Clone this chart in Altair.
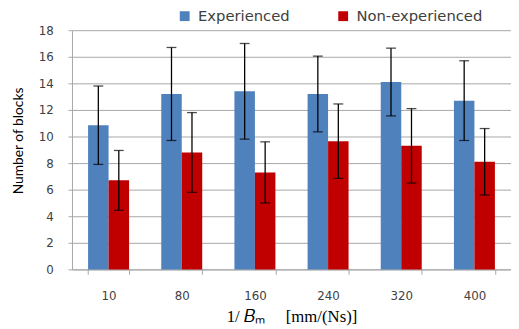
import altair as alt
import pandas as pd

categories = ["10", "80", "160", "240", "320", "400"]
series = ["Experienced", "Non-experienced"]
exp_mean = [10.85, 13.2, 13.4, 13.2, 14.1, 12.7]
exp_err = [2.95, 3.5, 3.6, 2.85, 2.55, 3.0]
non_mean = [6.7, 8.8, 7.3, 9.65, 9.3, 8.1]
non_err = [2.25, 3.0, 2.3, 2.8, 2.8, 2.5]
y_ticks = [0, 2, 4, 6, 8, 10, 12, 14, 16, 18]

rows = []
for i, c in enumerate(categories):
    rows.append(dict(cat=c, group=series[0], mean=exp_mean[i],
                     lo=exp_mean[i] - exp_err[i], hi=exp_mean[i] + exp_err[i]))
    rows.append(dict(cat=c, group=series[1], mean=non_mean[i],
                     lo=non_mean[i] - non_err[i], hi=non_mean[i] + non_err[i]))
df = pd.DataFrame(rows)

GRAY = "#a6a6a6"
TXT = "#404040"
NB = "\u00a0"

x = alt.X("cat:N", sort=categories,
          scale=alt.Scale(paddingInner=0.44, paddingOuter=0.22),
          axis=alt.Axis(title="1/" + NB + "𝐵ₘ" + NB * 5 + "[mm/(Ns)]", labelAngle=0,
                        tickBand="extent",
                        ticks=True, tickSize=5, tickColor=GRAY, domainColor=GRAY,
                        labelFont="DejaVu Sans", labelFontSize=12, labelColor=TXT,
                        labelPadding=17, titleFont="Liberation Serif", titleFontSize=17,
                        titleFontWeight="normal", titleColor="black", titlePadding=7))
xo = alt.XOffset("group:N", sort=series, scale=alt.Scale(paddingInner=0, paddingOuter=0))

y_axis = alt.Axis(title="Number of blocks", values=y_ticks, labelOverlap=False,
                  grid=True, gridColor=GRAY, domainColor=GRAY, tickColor=GRAY, tickSize=4,
                  labelFont="DejaVu Sans", labelFontSize=12, labelColor=TXT, labelPadding=15,
                  titleFont="Lato", titleFontSize=14, titleFontWeight="normal",
                  titleColor="black", titleX=-54, titleY=112, titleAngle=-90,
                  titleAlign="center", titleBaseline="middle")
y_scale = alt.Scale(domain=[0, 18], nice=False)


def Y(field):
    return alt.Y(field, scale=y_scale, axis=y_axis, title="Number of blocks")


bars = alt.Chart(df).mark_bar().encode(
    x=x, xOffset=xo,
    y=Y("mean:Q"),
    color=alt.Color("group:N", sort=series,
                    scale=alt.Scale(domain=series, range=["#4f81bd", "#c00000"]),
                    legend=alt.Legend(title=None, orient="none", legendX=107, legendY=-22,
                                      direction="horizontal", symbolType="square",
                                      symbolSize=100, symbolStrokeWidth=0,
                                      labelFont="DejaVu Sans", labelFontSize=15,
                                      labelColor=TXT, columnPadding=46, padding=0,
                                      labelOffset=6)),
)

rules = alt.Chart(df).mark_rule(color="black", strokeWidth=1.3).encode(
    x=x, xOffset=xo, y=Y("lo:Q"), y2="hi:Q")
cap_lo = alt.Chart(df).mark_tick(color="black", size=10, thickness=1.3).encode(
    x=x, xOffset=xo, y=Y("lo:Q"))
cap_hi = alt.Chart(df).mark_tick(color="black", size=10, thickness=1.3).encode(
    x=x, xOffset=xo, y=Y("hi:Q"))

chart = alt.layer(bars, rules, cap_lo, cap_hi).properties(
    width=446, height=243,
    autosize=alt.AutoSizeParams(type="none"),
    padding={"left": 65, "top": 20, "right": 0, "bottom": 58},
).configure_view(stroke=None)

chart.save("out.html", embed_options={"renderer": "svg", "actions": False})
